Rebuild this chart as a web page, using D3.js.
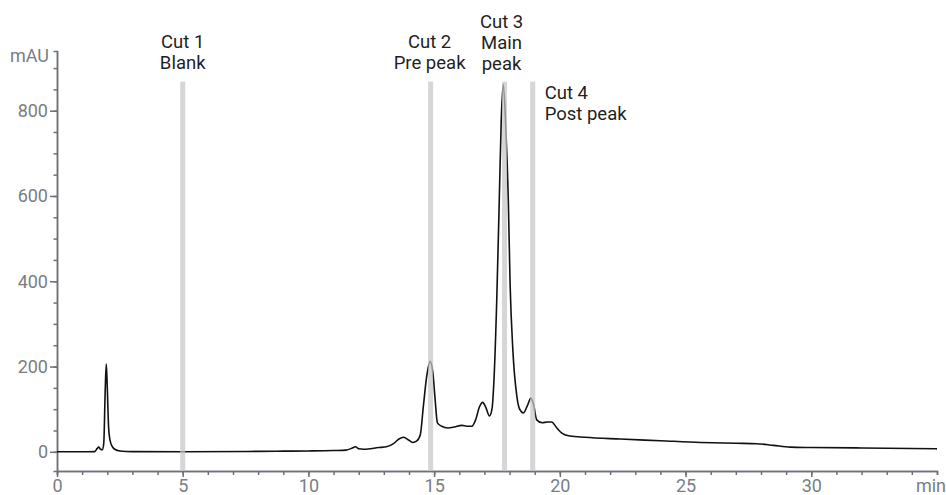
<!DOCTYPE html>
<html>
<head>
<meta charset="utf-8">
<script src="https://cdn.jsdelivr.net/npm/d3@7"></script>
<style>
  body { margin: 0; background: #fff; }
  svg { display: block; font-family: Roboto, sans-serif; }
  .axis path, .axis line { stroke: #6e7179; stroke-width: 1.5; }
  .axis text { fill: #7a7d83; font-size: 18px; font-family: Roboto, sans-serif; }
  .cut-label { fill: #1f1f1f; font-size: 18.5px; }
</style>
</head>
<body>
<div class="chart"></div>
<script>
// retention time (min) and absorbance (mAU)
const times = [0, 1.0, 1.5, 1.6, 1.66, 1.73, 1.8, 1.86, 1.92, 1.96, 2.0, 2.05, 2.1, 2.2, 2.3, 2.5, 3,
    5, 8, 9, 10, 11, 11.5, 11.75, 11.87, 12.0, 12.2, 12.8, 13.1, 13.4, 13.6, 13.78, 13.95, 14.15, 14.3,
    14.45, 14.57, 14.7, 14.84, 14.95, 15.04, 15.13, 15.3, 15.55, 15.8, 16.1, 16.3, 16.5, 16.65, 16.8,
    16.93, 17.05, 17.2, 17.3, 17.38, 17.49, 17.59, 17.67, 17.75, 17.85, 17.95, 18.02, 18.13, 18.29,
    18.4, 18.55, 18.7, 18.85, 18.95, 19.08, 19.3, 19.5, 19.68, 19.85, 19.94, 20.08, 20.4, 21, 22.4,
    24, 25.6, 27, 27.83, 28.5, 29.16, 30, 32, 35];
const mAU = [0, 0, 0.5, 8, 11, 6, 5, 20, 150, 206, 150, 60, 30, 12, 6, 2, 0.5,
    0, 1, 1.5, 2, 3, 4, 9, 12, 7, 6, 10, 12, 20, 30, 34, 29, 22, 25,
    40, 106, 175, 212, 185, 122, 68, 60, 56, 58, 62, 60, 60, 75, 105,
    116, 105, 84, 100, 169, 356, 590, 780, 862, 760, 590, 396, 239, 130,
    100, 91, 107, 126, 112, 75, 68, 70, 70, 58, 52, 44, 37, 34, 30,
    26, 22, 20, 19, 15, 11, 10, 9, 7];

// fraction cuts
const cutTimes = [5.0, 14.86, 17.8, 18.92];
const cutLabels = [["Cut 1", "Blank"], ["Cut 2", "Pre peak"], ["Cut 3", "Main", "peak"], ["Cut 4", "Post peak"]];
const cutTop = 868;

const xTicks = [0, 5, 10, 15, 20, 25, 30];
const yTicks = [0, 200, 400, 600, 800];

const data = times.map((t, i) => ({ t: t, v: mAU[i] }));

const width = 946, height = 495;
const svg = d3.select(".chart").append("svg")
    .attr("width", width)
    .attr("height", height);

const xScale = d3.scaleLinear().domain([0, 35]).range([57, 937]);
const yScale = d3.scaleLinear().domain([-45, 940]).range([471, 51]);

// minor ticks
const xMinor = d3.axisBottom(xScale).tickValues(d3.range(0, 36, 1)).tickSize(4).tickFormat("");
const yMinor = d3.axisLeft(yScale).tickValues(d3.range(0, 901, 50)).tickSize(3.5).tickFormat("");

svg.append("g").attr("class", "axis")
    .attr("transform", `translate(0,${yScale.range()[0]})`)
    .call(xMinor);
svg.append("g").attr("class", "axis")
    .attr("transform", `translate(${xScale.range()[0]},0)`)
    .call(yMinor);

// major ticks
const xAxis = d3.axisBottom(xScale).tickValues(xTicks).tickSize(6).tickPadding(2).tickSizeOuter(0);
const yAxis = d3.axisLeft(yScale).tickValues(yTicks).tickSize(7).tickPadding(2).tickSizeOuter(0);

const gx = svg.append("g").attr("class", "axis")
    .attr("transform", `translate(0,${yScale.range()[0]})`)
    .call(xAxis);
gx.append("text")
    .attr("x", xScale(35) + 9)
    .attr("y", 8)
    .attr("dy", "0.71em")
    .attr("text-anchor", "end")
    .text("min");

const gy = svg.append("g").attr("class", "axis")
    .attr("transform", `translate(${xScale.range()[0]},0)`)
    .call(yAxis);
gy.append("text")
    .attr("x", -8)
    .attr("y", yScale(928))
    .attr("dy", "0.32em")
    .attr("text-anchor", "end")
    .text("mAU");

// trace
const line = d3.line()
    .x(d => xScale(d.t))
    .y(d => yScale(d.v))
    .curve(d3.curveMonotoneX);

svg.append("path")
    .datum(data)
    .attr("fill", "none")
    .attr("stroke", "#111")
    .attr("stroke-width", 1.6)
    .attr("d", line);

// cut markers on top of the trace
svg.selectAll(".cut")
    .data(cutTimes)
    .enter()
    .append("rect")
    .attr("class", "cut")
    .attr("x", d => xScale(d) - 2.5)
    .attr("width", 5)
    .attr("y", yScale(cutTop))
    .attr("height", yScale(-45) - yScale(cutTop))
    .attr("fill", "#c6c6c6")
    .attr("opacity", 0.72);

// labels
const labelPos = [
    { dx: 0, y: 48, anchor: "middle" },
    { dx: -1, y: 48, anchor: "middle" },
    { dx: -3, y: 28, anchor: "middle" },
    { dx: 12, y: 99, anchor: "start" }
];

cutLabels.forEach((lines, i) => {
    const p = labelPos[i];
    const txt = svg.append("text")
        .attr("class", "cut-label")
        .attr("text-anchor", p.anchor)
        .attr("x", xScale(cutTimes[i]) + p.dx)
        .attr("y", p.y);
    lines.forEach((s, j) => {
        txt.append("tspan")
            .attr("x", xScale(cutTimes[i]) + p.dx)
            .attr("y", p.y + j * 21)
            .text(s);
    });
});
</script>
</body>
</html>
